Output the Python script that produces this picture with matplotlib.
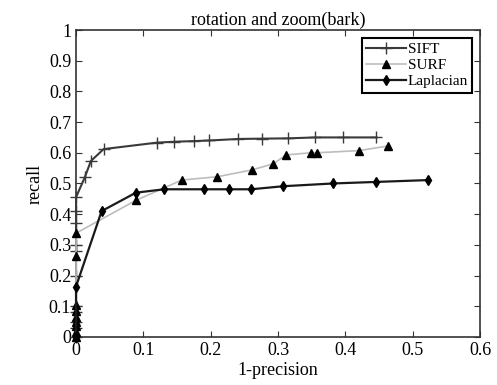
import matplotlib
matplotlib.use('Agg')
import matplotlib.pyplot as plt

# SIFT
sift_x = [0, 0, 0, 0, 0, 0, 0, 0, 0, 0, 0, 0.013, 0.022, 0.041, 0.12, 0.146,
          0.175, 0.198, 0.241, 0.276, 0.315, 0.355, 0.396, 0.446]
sift_y = [0, 0.03, 0.05, 0.08, 0.1, 0.2, 0.28, 0.30, 0.37, 0.41, 0.455, 0.52,
          0.573, 0.612, 0.633, 0.636, 0.638, 0.64, 0.645, 0.646, 0.647, 0.65,
          0.65, 0.65]

# SURF
surf_x = [0, 0, 0, 0, 0, 0, 0, 0, 0, 0.089, 0.157, 0.21, 0.261, 0.293, 0.312,
          0.349, 0.358, 0.42, 0.463]
surf_y = [0, 0.017, 0.034, 0.05, 0.066, 0.083, 0.104, 0.262, 0.338, 0.445,
          0.511, 0.522, 0.544, 0.564, 0.593, 0.60, 0.60, 0.607, 0.622]

# Laplacian
lap_x = [0, 0, 0.038, 0.089, 0.131, 0.19, 0.227, 0.26, 0.308, 0.382, 0.446, 0.523]
lap_y = [0, 0.164, 0.41, 0.47, 0.481, 0.481, 0.481, 0.481, 0.491, 0.50, 0.505, 0.511]

xticks = [0, 0.1, 0.2, 0.3, 0.4, 0.5, 0.6]
yticks = [0, 0.1, 0.2, 0.3, 0.4, 0.5, 0.6, 0.7, 0.8, 0.9, 1]
xlabels = ['0', '0.1', '0.2', '0.3', '0.4', '0.5', '0.6']
ylabels = ['0', '0.1', '0.2', '0.3', '0.4', '0.5', '0.6', '0.7', '0.8', '0.9', '1']

plt.rcParams['font.family'] = ['Liberation Serif', 'DejaVu Serif']

fig = plt.figure(figsize=(4.97, 3.85), dpi=100)
ax = fig.add_axes([0.153, 0.125, 0.813, 0.797])

ax.plot(sift_x, sift_y, '-', marker='+', color='#3a3a3a', lw=1.5, ms=8, mew=1.0,
        label='SIFT', clip_on=False, zorder=3)
ax.plot(surf_x, surf_y, '-', marker='^', color='#bdbdbd', lw=1.2, ms=6,
        mfc='black', mec='black', label='SURF', clip_on=False, zorder=3)
ax.plot(lap_x, lap_y, '-', marker='d', color='#1a1a1a', lw=1.6, ms=5,
        mfc='black', mec='black', label='Laplacian', clip_on=False, zorder=3)

ax.set_xlim(0, 0.6)
ax.set_ylim(0, 1)
ax.set_xticks(xticks)
ax.set_yticks(yticks)
ax.set_xticklabels(xlabels)
ax.set_yticklabels(ylabels)
ax.tick_params(direction='in', labelsize=13, length=4, top=True, right=True, color='#333333')
for s in ax.spines.values():
    s.set_linewidth(1.2)
    s.set_color('#333333')

ax.set_title('rotation and zoom(bark)', fontsize=13, pad=4)
ax.set_xlabel('1-precision', fontsize=13, labelpad=2)
ax.set_ylabel('recall', fontsize=13, labelpad=4)

leg = ax.legend(loc='upper right', fontsize=11, fancybox=False, edgecolor='black',
                framealpha=1, handlelength=2.6, borderpad=0.3, labelspacing=0.15,
                handletextpad=0.1, borderaxespad=0.5)
leg.get_frame().set_linewidth(1.5)

fig.savefig('out.png', dpi=100)
